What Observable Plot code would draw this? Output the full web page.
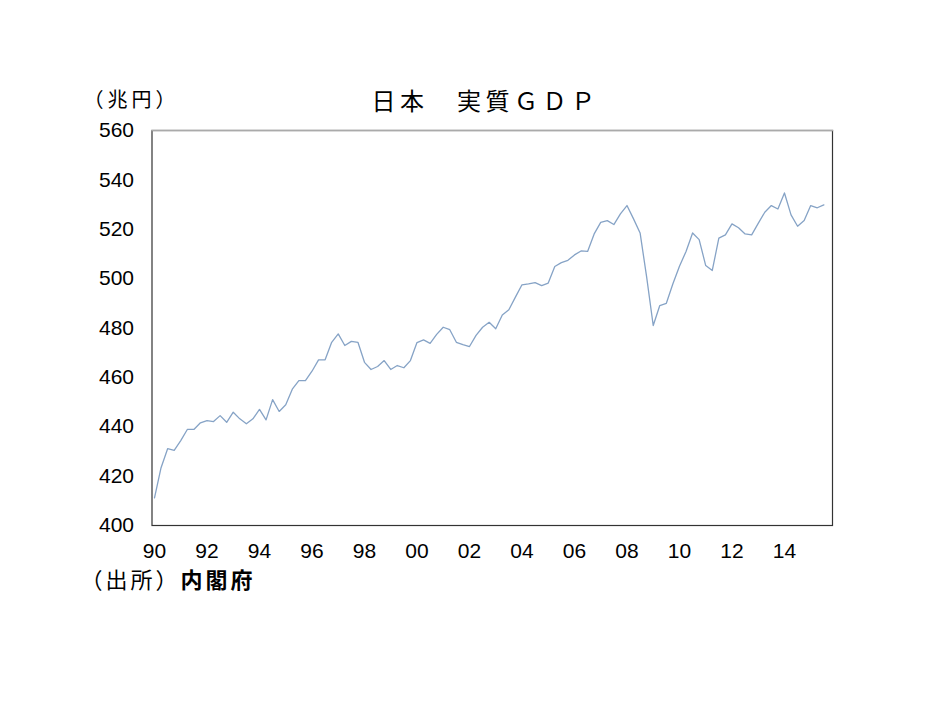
<!DOCTYPE html>
<html>
<head>
<meta charset="utf-8">
<script src="https://cdn.jsdelivr.net/npm/d3@7"></script>
<script src="https://cdn.jsdelivr.net/npm/@observablehq/plot@0.6"></script>
<style>
  html, body { margin: 0; padding: 0; background: #fff; }
</style>
</head>
<body>
<div id="chart"></div>
<script>
// ---- data (quarterly real GDP, trillion yen, 1990Q1 – 2015Q3) ----
const title = "日本　実質ＧＤＰ";
const unitLabel = "（兆円）";
const sourcePrefix = "（出所）";
const sourceName = "内閣府";
const startYear = 1990;
const gdp = [
  411.2, 423.4, 431.1, 430.4, 434.4, 438.9, 438.9, 441.6,
  442.5, 442.1, 444.5, 441.8, 445.9, 443.2, 441.2, 443.2,
  447.0, 442.8, 451.0, 446.2, 448.9, 455.2, 458.7, 458.7,
  462.5, 467.1, 467.1, 474.2, 477.6, 472.9, 474.6, 474.2,
  466.1, 463.2, 464.4, 466.8, 463.2, 464.8, 463.9, 466.8,
  474.1, 475.2, 473.8, 477.4, 480.3, 479.3, 474.2, 473.3,
  472.5, 477.0, 480.3, 482.3, 479.7, 485.3, 487.4, 492.5,
  497.5, 497.9, 498.4, 497.2, 498.2, 504.9, 506.5, 507.4,
  509.6, 511.2, 511.0, 518.1, 522.8, 523.5, 521.9, 526.2,
  529.6, 524.2, 518.5, 500.6, 481.0, 489.1, 490.0, 497.9,
  505.0, 511.0, 518.5, 515.8, 505.3, 503.3, 516.4, 517.7,
  522.2, 520.6, 518.1, 517.7, 522.4, 526.9, 529.6, 528.2,
  534.7, 525.8, 521.2, 523.5, 529.6, 528.7, 529.9
];
const xTicks = [1990, 1992, 1994, 1996, 1998, 2000, 2002, 2004, 2006, 2008, 2010, 2012, 2014];
const xTickLabels = ["90", "92", "94", "96", "98", "00", "02", "04", "06", "08", "10", "12", "14"];
const yTicks = [400, 420, 440, 460, 480, 500, 520, 540, 560];

// table for the library
const rows = gdp.map((v, i) => ({t: startYear + i / 4, v}));
const labelOf = new Map(xTicks.map((t, i) => [t, xTickLabels[i]]));

const numFont = "'Liberation Sans', Arial, sans-serif";
const jpFont = "'Noto Sans CJK JP', sans-serif";

const chart = Plot.plot({
  width: 934,
  height: 701,
  marginLeft: 151.5,
  marginRight: 102,
  marginTop: 130,
  marginBottom: 176,
  style: {fontFamily: numFont, fontSize: "21px", color: "#000", background: "#fff"},
  x: {domain: [1989.905, 2015.83], ticks: xTicks, tickFormat: d => labelOf.get(d)},
  y: {domain: [400, 560], ticks: yTicks},
  marks: [
    Plot.axisX({ticks: xTicks, tickFormat: d => labelOf.get(d), tickSize: 0, tickPadding: 18, fontSize: 21, fill: "#000", label: null}),
    Plot.axisY({ticks: yTicks, tickSize: 0, tickPadding: 18, fontSize: 21, fill: "#000", label: null}),
    Plot.frame({stroke: "#333", strokeWidth: 1.2}),
    Plot.frame({anchor: "top", stroke: "#aaa", strokeWidth: 1.5}),
    Plot.line(rows, {x: "t", y: "v", stroke: "#86a3c6", strokeWidth: 1.3}),
    Plot.text([title], {text: d => d, frameAnchor: "top-left", dx: 219.5, dy: -28, textAnchor: "start", lineAnchor: "middle",
      fontFamily: jpFont, fontSize: 24, fill: "#000"}),
    Plot.text([unitLabel], {text: d => d, frameAnchor: "top-left", dx: -68.5, dy: -30, textAnchor: "start", lineAnchor: "middle",
      fontFamily: jpFont, fontSize: 20, fill: "#000"}),
    Plot.text([sourcePrefix], {text: d => d, frameAnchor: "bottom-left", dx: -71.5, dy: 55, textAnchor: "start", lineAnchor: "middle",
      fontFamily: jpFont, fontSize: 22, fill: "#000"}),
    Plot.text([sourceName], {text: d => d, frameAnchor: "bottom-left", dx: 28.5, dy: 55, textAnchor: "start", lineAnchor: "middle",
      fontFamily: jpFont, fontSize: 22, fontWeight: "bold", fill: "#000"})
  ]
});

// letter spacing for the Japanese texts (not a Plot text option)
const spacing = new Map([[title, 4.5], [unitLabel, 4], [sourcePrefix, 3], [sourceName, 3]]);
d3.select(chart).selectAll("text").each(function() {
  const s = spacing.get(this.textContent);
  if (s != null) this.setAttribute("letter-spacing", s);
});
document.getElementById("chart").append(chart);
</script>
</body>
</html>
